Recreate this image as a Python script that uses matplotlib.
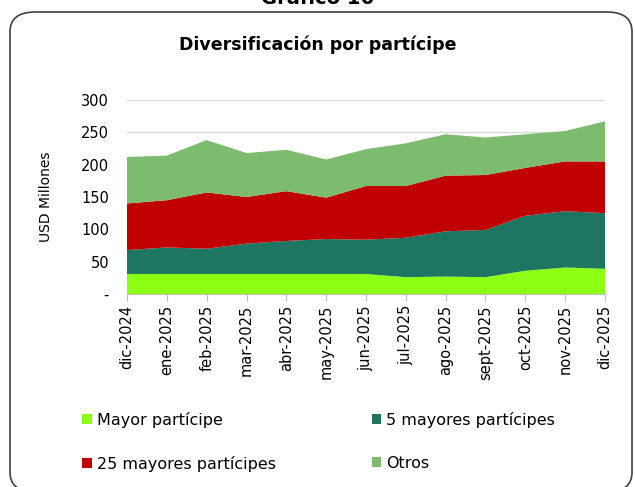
import matplotlib
matplotlib.use("Agg")
import matplotlib.pyplot as plt
from matplotlib.patches import FancyBboxPatch, Patch
import numpy as np

meses = ["dic-2024", "ene-2025", "feb-2025", "mar-2025", "abr-2025", "may-2025",
         "jun-2025", "jul-2025", "ago-2025", "sept-2025", "oct-2025", "nov-2025", "dic-2025"]

# USD millones por grupo de partícipes
mayor = [31, 31, 31, 31, 31, 31, 31, 26, 27, 26, 36, 41, 39]
mayores_5 = [37, 41, 39, 47, 51, 54, 53, 61, 70, 73, 85, 87, 86]
mayores_25 = [72, 73, 87, 72, 77, 64, 83, 80, 86, 85, 74, 77, 80]
otros = [72, 69, 81, 68, 64, 59, 57, 66, 64, 58, 52, 47, 62]

nombres = ["Mayor partícipe", "5 mayores partícipes", "25 mayores partícipes", "Otros"]
colores = ["#8CFF14", "#1E7561", "#C00000", "#7DBB6E"]

plt.rcParams['font.family'] = ['DejaVu Sans']

fig = plt.figure(figsize=(6.35, 4.87), dpi=100)

# marco redondeado (el borde inferior queda fuera de la imagen)
marco = FancyBboxPatch((10 / 635, -0.01), 622 / 635, 1 - 12 / 487 + 0.01,
                       boxstyle="round,pad=0,rounding_size=0.04",
                       transform=fig.transFigure, fill=False,
                       edgecolor="#404040", linewidth=1.2, clip_on=False)
fig.patches.append(marco)

# título general cortado por el borde superior
fig.text(0.5, 1.0 + 1 / 487, "Gráfico 16", ha="center", va="center", fontsize=14,
         fontweight="bold")
fig.text(0.5, 1 - 45 / 487, "Diversificación por partícipe", ha="center",
         va="center", fontsize=12.5, fontweight="bold")

ax = fig.add_axes([127 / 635, 1 - 294 / 487, 478 / 635, 194 / 487])
x = np.arange(len(meses))
ax.stackplot(x, mayor, mayores_5, mayores_25, otros, colors=colores, linewidth=0)

ax.set_xlim(0, len(meses) - 1)
ax.set_ylim(0, 300)
ax.set_yticks([0, 50, 100, 150, 200, 250, 300])
ax.set_yticklabels(["-", "50", "100", "150", "200", "250", "300"], fontsize=10.5)
ax.set_xticks(x)
ax.set_xticklabels(meses, rotation=90, fontsize=10.5)
ax.yaxis.grid(True, color="#D9D9D9", linewidth=1)
ax.set_axisbelow(True)
for s in ["left", "right", "top"]:
    ax.spines[s].set_visible(False)
ax.spines["bottom"].set_color("#BFBFBF")
ax.tick_params(axis="y", length=0, pad=13)
ax.tick_params(axis="x", length=5, color="#BFBFBF", pad=3)
ax.set_ylabel("USD Millones", fontsize=10)
ax.yaxis.set_label_coords(-0.155, 0.5)

# orden para que la leyenda se lea por filas
orden = [0, 2, 1, 3]
handles = [Patch(facecolor=colores[i], edgecolor="none") for i in orden]
etiquetas = [nombres[i] for i in orden]
fig.legend(handles, etiquetas, loc="center left", ncol=2, frameon=False,
           bbox_to_anchor=(68 / 635, 1 - 442 / 487), fontsize=11.5,
           handlelength=0.6, handleheight=0.6, handletextpad=0.3,
           columnspacing=6.0, labelspacing=1.75)

fig.savefig("out.png", dpi=100)
